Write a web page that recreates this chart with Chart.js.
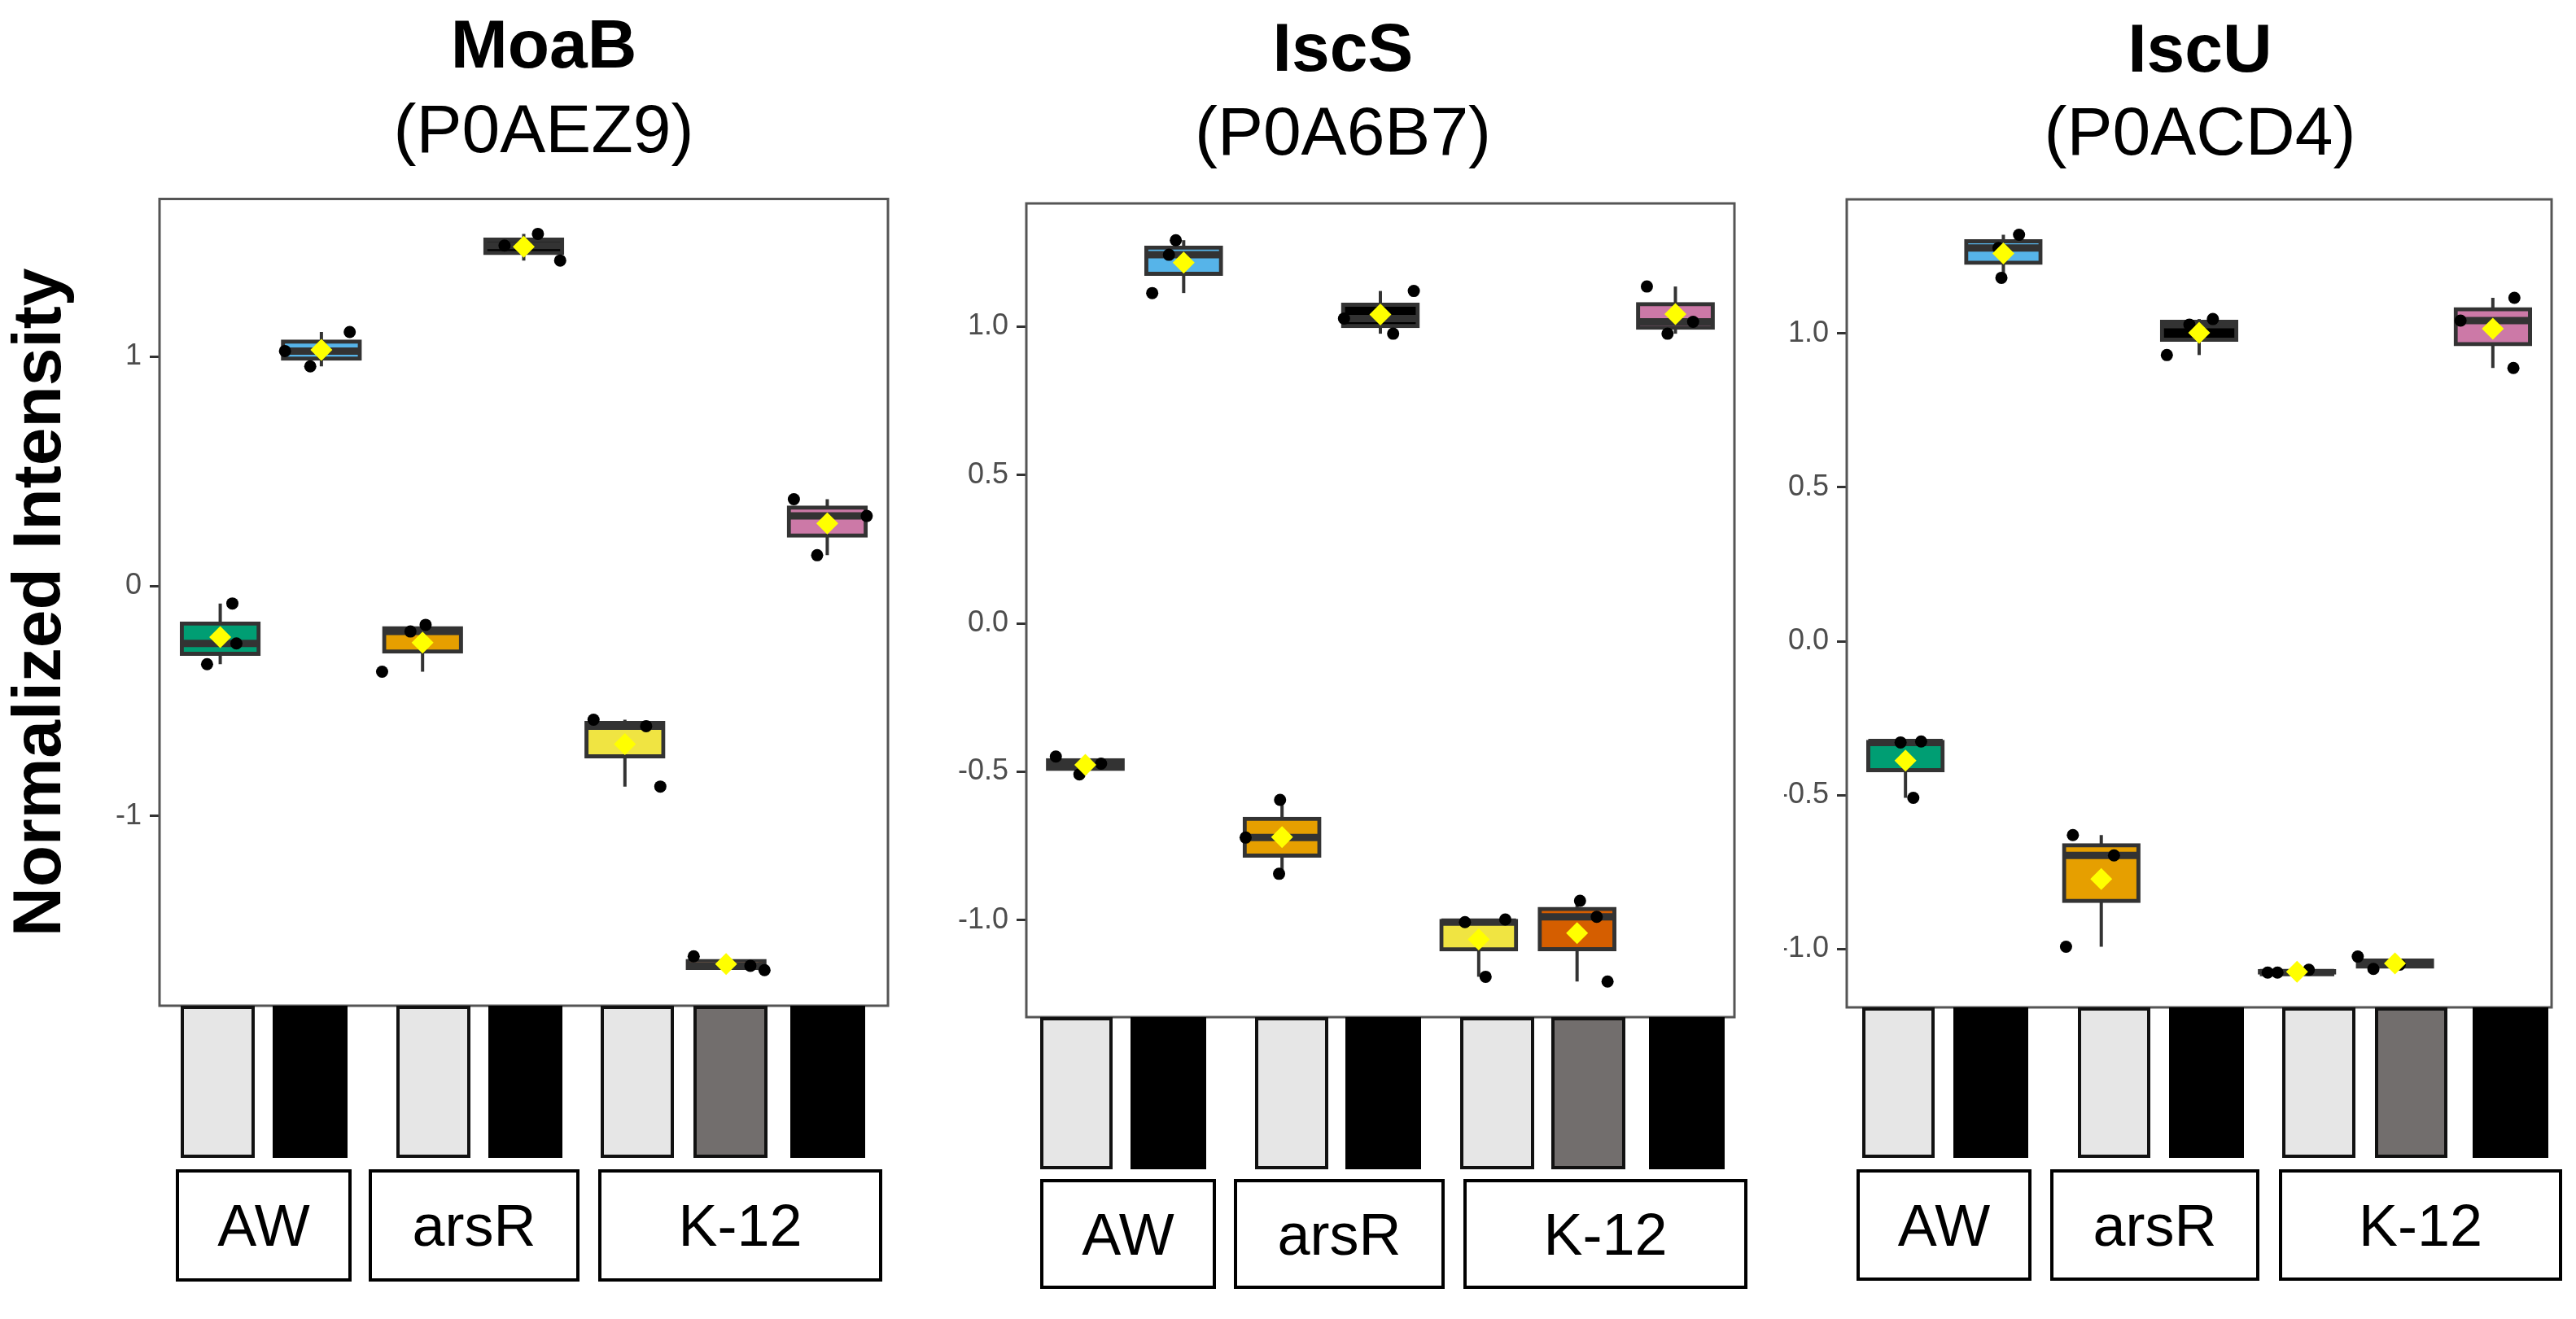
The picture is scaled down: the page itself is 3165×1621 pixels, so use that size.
<!DOCTYPE html>
<html>
<head>
<meta charset="utf-8">
<script src="https://cdn.jsdelivr.net/npm/chart.js@4.4.1/dist/chart.umd.min.js"></script>
<style>
  html, body { margin: 0; padding: 0; background: #ffffff; }
  body { width: 3165px; height: 1621px; position: relative; overflow: hidden;
         font-family: "Liberation Sans", Arial, sans-serif; }
  canvas { position: absolute; top: 0; }
  .ttl { position: absolute; white-space: nowrap; transform: translateX(-50%);
         font-size: 84px; line-height: 84px; color: #000; }
  .ttl.b { font-weight: bold; }
  .cond { position: absolute; box-sizing: border-box; }
  .strain { position: absolute; box-sizing: border-box; border: 4px solid #000; background: #fff;
            display: flex; align-items: center; justify-content: center; font-size: 72px; color: #000; }
</style>
</head>
<body>
<canvas id="c1"></canvas>
<canvas id="c2"></canvas>
<canvas id="c3"></canvas>
<script>
// ---------------- DATA ----------------
const groups = ['AW light', 'AW dark', 'arsR light', 'arsR dark', 'K-12 light', 'K-12 dim', 'K-12 dark'];
const strains = ['AW', 'arsR', 'K-12'];
const proteins = ['MoaB', 'IscS', 'IscU'];
const accessions = ['(P0AEZ9)', '(P0A6B7)', '(P0ACD4)'];
const yAxisTitle = 'Normalized Intensity';

// replicate values per group (3 replicates each)
const moabReps = [[-0.075, -0.249, -0.339], [1.024, 0.957, 1.107], [-0.197, -0.168, -0.372], [1.483, 1.534, 1.418],
                  [-0.581, -0.609, -0.872], [-1.611, -1.652, -1.671], [0.379, 0.306, 0.135]];
const iscsReps = [[-0.449, -0.509, -0.473], [1.113, 1.242, 1.291], [-0.595, -0.722, -0.844], [1.027, 0.976, 1.120],
                  [-1.007, -0.998, -1.191], [-0.935, -0.989, -1.207], [1.135, 0.976, 1.016]];
const iscuReps = [[-0.326, -0.509, -0.329], [1.321, 1.181, 1.278], [-0.630, -0.696, -0.993], [0.930, 1.047, 1.029],
                  [-1.077, -1.077, -1.068], [-1.025, -1.065, -1.051], [1.042, 1.116, 0.888]];

// horizontal jitter of each replicate (category units)
const moabJitter = [[0.12, 0.16, -0.13], [-0.36, -0.11, 0.28], [-0.12, 0.03, -0.40], [-0.19, 0.14, 0.36],
                    [-0.31, 0.21, 0.35], [-0.32, 0.24, 0.38], [-0.33, 0.39, -0.10]];
const iscsJitter = [[-0.30, -0.06, 0.16], [-0.32, -0.15, -0.08], [-0.02, -0.37, -0.03], [-0.37, 0.13, 0.34],
                    [-0.14, 0.27, 0.07], [0.03, 0.20, 0.31], [-0.29, -0.08, 0.18]];
const iscuJitter = [[0.16, 0.08, -0.05], [0.16, -0.02, -0.05], [-0.29, 0.13, -0.36], [-0.33, 0.14, -0.10],
                    [-0.30, -0.20, 0.12], [-0.38, -0.22, 0.05], [-0.33, 0.22, 0.21]];

// y axis ticks and ranges
const moabTicks = [-1, 0, 1];
const moabTickLabels = ['-1', '0', '1'];
const iscsTicks = [-1, -0.5, 0, 0.5, 1];
const iscsTickLabels = ['-1.0', '-0.5', '0.0', '0.5', '1.0'];
const iscuTicks = [-1, -0.5, 0, 0.5, 1];
const iscuTickLabels = ['-1.0', '-0.5', '0.0', '0.5', '1.0'];
const moabRange = [-1.826, 1.686];
const iscsRange = [-1.327, 1.415];
const iscuRange = [-1.19, 1.436];

// ---------------- STYLE ----------------
const FONT = '"Liberation Sans", Arial, sans-serif';
const boxFills = ['#009E73', '#56B4E9', '#E69F00', '#000000', '#F0E442', '#D55E00', '#CC79A7'];
const condFills = ['#E6E6E6', '#000000', '#E6E6E6', '#000000', '#E6E6E6', '#726E6D', '#000000'];
const condBorder = [true, false, true, false, true, true, false];
const BOX_W = 0.76;

// ---------------- LAYOUT (pixels) ----------------
const panelLayout = [
  { canvasX: 0,    canvasW: 1130, canvasH: 1300, axisW: 196, top: 244.5, bottom: 1236, right: 1091,
    titleX: 668, titleTop: 11.5, subTop: 115.7,
    condX: [[222,313],[335,427],[487,578],[600,691],[738,828],[852,943],[971,1063]], condY: [1236, 1423],
    strainX: [[216,432],[453,712],[735,1084]], strainY: [1437, 1575] },
  { canvasX: 1150, canvasW: 1000, canvasH: 1300, axisW: 111, top: 250, bottom: 1250, right: 2131,
    titleX: 1650, titleTop: 16.4, subTop: 118.7,
    condX: [[1278,1367],[1389,1482],[1542,1632],[1653,1746],[1794,1885],[1906,1997],[2026,2119]], condY: [1250, 1437],
    strainX: [[1278,1494],[1516,1775],[1798,2147]], strainY: [1449, 1584] },
  { canvasX: 2192, canvasW: 973, canvasH: 1300, axisW: 77, top: 245, bottom: 1238, right: 3135,
    titleX: 2703, titleTop: 16.5, subTop: 119,
    condX: [[2288,2377],[2400,2492],[2553,2642],[2665,2757],[2804,2894],[2918,3007],[3038,3131]], condY: [1238, 1423],
    strainX: [[2281,2496],[2519,2776],[2800,3148]], strainY: [1437, 1574] }
];

// ---------------- HELPERS ----------------
function boxStats(v) {
  const s = [...v].sort((a, b) => a - b);
  const q = p => { const h = (s.length - 1) * p, lo = Math.floor(h), hi = Math.min(lo + 1, s.length - 1);
                   return s[lo] + (h - lo) * (s[hi] - s[lo]); };
  return { min: s[0], q1: q(0.25), med: q(0.5), q3: q(0.75), max: s[s.length - 1],
           mean: v.reduce((a, b) => a + b, 0) / v.length };
}

const framePlugin = {
  id: 'frame',
  afterDraw(chart) {
    const { ctx, chartArea: a } = chart;
    ctx.save();
    ctx.strokeStyle = '#555555';
    ctx.lineWidth = 3;
    ctx.strokeRect(a.left, a.top, a.right - a.left, a.bottom - a.top);
    ctx.restore();
  }
};

function makePanel(idx, canvasId, reps, jitter, ticks, tickLabels, range, yTitle) {
  const L = panelLayout[idx];
  const cv = document.getElementById(canvasId);
  cv.width = L.canvasW; cv.height = L.canvasH;
  cv.style.left = L.canvasX + 'px';
  const st = reps.map(boxStats);
  const halfBoxPx = c => {
    const x = c.chart.scales.x;
    return Math.abs(x.getPixelForValue(BOX_W / 2) - x.getPixelForValue(0));
  };
  const datasets = [
    { type: 'bar', label: 'whisker', data: st.map((s, i) => ({ x: i, y: [s.min, s.max] })),
      backgroundColor: '#333333', borderWidth: 0, barThickness: 4, grouped: false, order: 5, inflateAmount: 0 },
    { type: 'bar', label: 'box', data: st.map((s, i) => ({ x: i, y: [s.q1, s.q3] })),
      backgroundColor: boxFills, borderColor: '#333333', borderWidth: 5, borderSkipped: false,
      inflateAmount: 2.5, barPercentage: BOX_W, categoryPercentage: 1, grouped: false, order: 4 },
    { type: 'scatter', label: 'median', data: st.map((s, i) => ({ x: i, y: s.med })),
      pointStyle: 'line', radius: halfBoxPx, borderColor: '#333333', borderWidth: 9, order: 3 },
    { type: 'scatter', label: 'replicates',
      data: reps.flatMap((r, i) => r.map((v, k) => ({ x: i + jitter[i][k], y: v }))),
      pointStyle: 'circle', radius: 7.5, backgroundColor: '#000000', borderWidth: 0, order: 2 },
    { type: 'scatter', label: 'mean', data: st.map((s, i) => ({ x: i, y: s.mean })),
      pointStyle: 'rectRot', radius: 13.5, backgroundColor: '#FFFF00', borderWidth: 0, order: 1 }
  ];
  new Chart(cv, {
    type: 'bar',
    data: { datasets },
    options: {
      responsive: false, animation: false, events: [],
      layout: { padding: { left: 0, right: L.canvasW - (L.right - L.canvasX), top: L.top, bottom: L.canvasH - L.bottom } },
      plugins: { legend: { display: false }, tooltip: { enabled: false }, title: { display: false } },
      scales: {
        x: { type: 'linear', min: -0.6, max: 6.6, display: false, offset: false,
             afterBuildTicks: s => { s.ticks = groups.map((g, i) => ({ value: i })); } },
        y: { type: 'linear', min: range[0], max: range[1],
             afterBuildTicks: s => { s.ticks = ticks.map(v => ({ value: v })); },
             afterFit: s => { s.width = L.axisW; },
             ticks: { callback: (v, i) => tickLabels[i], color: '#4D4D4D',
                      font: { family: FONT, size: 36 }, padding: 10 },
             grid: { drawOnChartArea: false, drawTicks: true, tickLength: 12, tickWidth: 3, tickColor: '#333333' },
             border: { display: false },
             title: yTitle ? { display: true, text: yTitle, color: '#000000',
                               font: { family: FONT, size: 84, weight: 'bold' }, padding: { top: 0, bottom: 0 } }
                           : { display: false } }
      }
    },
    plugins: [framePlugin]
  });

  // titles
  const t = document.createElement('div');
  t.className = 'ttl b'; t.textContent = proteins[idx];
  t.style.left = L.titleX + 'px'; t.style.top = L.titleTop + 'px';
  document.body.appendChild(t);
  const sub = document.createElement('div');
  sub.className = 'ttl'; sub.textContent = accessions[idx];
  sub.style.left = L.titleX + 'px'; sub.style.top = L.subTop + 'px';
  document.body.appendChild(sub);

  // condition swatches under each group
  groups.forEach((g, i) => {
    const d = document.createElement('div');
    d.className = 'cond';
    d.style.left = L.condX[i][0] + 'px';
    d.style.width = (L.condX[i][1] - L.condX[i][0]) + 'px';
    d.style.top = L.condY[0] + 'px';
    d.style.height = (L.condY[1] - L.condY[0]) + 'px';
    d.style.background = condFills[i];
    if (condBorder[i]) d.style.border = '4px solid #111111';
    document.body.appendChild(d);
  });
  // strain boxes
  strains.forEach((s, i) => {
    const d = document.createElement('div');
    d.className = 'strain'; d.textContent = s;
    d.style.left = L.strainX[i][0] + 'px';
    d.style.width = (L.strainX[i][1] - L.strainX[i][0]) + 'px';
    d.style.top = L.strainY[0] + 'px';
    d.style.height = (L.strainY[1] - L.strainY[0]) + 'px';
    document.body.appendChild(d);
  });
}

makePanel(0, 'c1', moabReps, moabJitter, moabTicks, moabTickLabels, moabRange, yAxisTitle);
makePanel(1, 'c2', iscsReps, iscsJitter, iscsTicks, iscsTickLabels, iscsRange, null);
makePanel(2, 'c3', iscuReps, iscuJitter, iscuTicks, iscuTickLabels, iscuRange, null);
</script>
</body>
</html>
